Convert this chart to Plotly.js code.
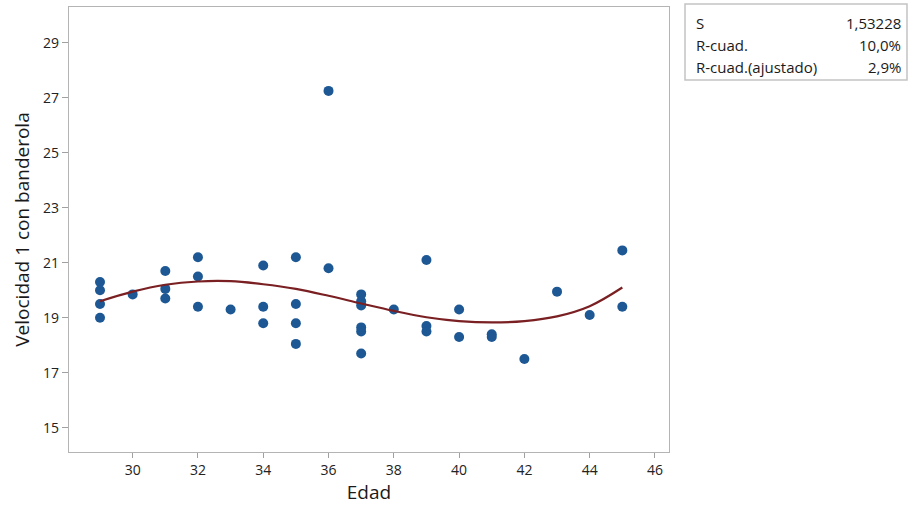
<!DOCTYPE html>
<html>
<head>
<meta charset="utf-8">
<script src="https://cdn.plot.ly/plotly-3.0.1.min.js"></script>
<style>html,body{margin:0;padding:0;background:#fff;}#chart{width:909px;height:515px;}</style>
</head>
<body>
<div id="chart"></div>
<script>
// Observed data: Edad (x) and Velocidad 1 con banderola (y)
const edad = [29,29,29,29, 30, 31,31,31, 32,32,32, 33, 34,34,34, 35,35,35,35, 36,36,
              37,37,37,37,37,37, 38, 39,39,39, 40,40, 41,41, 42, 43, 44, 45,45];
const velocidad = [20.3,20.0,19.5,19.0, 19.85, 20.7,20.05,19.7, 21.2,20.5,19.4, 19.3,
                   20.9,19.4,18.8, 21.2,19.5,18.8,18.05, 27.25,20.8,
                   19.85,19.6,19.45,18.65,18.5,17.7, 19.3, 21.1,18.7,18.5, 19.3,18.3,
                   18.4,18.3, 17.5, 19.95, 19.1, 21.45,19.4];
// Fitted (cubic) line
const fitX = [29,30,31,32,33,34,35,36,37,38,39,40,41,42,43,44,45];
const fitY = [19.6,19.95,20.2,20.32,20.33,20.22,20.05,19.8,19.52,19.25,19.02,18.88,18.83,18.88,19.05,19.42,20.1];
// Summary stats
const statLabels = ["S", "R-cuad.", "R-cuad.(ajustado)"];
const statValues = ["1,53228", "10,0%", "2,9%"];
const xTicks = [30,32,34,36,38,40,42,44,46];
const yTicks = [15,17,19,21,23,25,27,29];

const font = "'Open Sans', 'Noto Sans', sans-serif";

const traces = [
  {
    x: edad, y: velocidad, type: 'scatter', mode: 'markers',
    marker: {color: '#1d5894', size: 10, line: {width: 0}},
    hoverinfo: 'x+y'
  },
  {
    x: fitX, y: fitY, type: 'scatter', mode: 'lines',
    line: {color: '#7a1f22', width: 2.2, shape: 'spline', smoothing: 1.0},
    hoverinfo: 'skip'
  }
];

const layout = {
  width: 909, height: 515,
  margin: {l: 69, r: 240, t: 7, b: 63},
  paper_bgcolor: '#ffffff', plot_bgcolor: '#ffffff',
  showlegend: false,
  font: {family: font, color: '#222', size: 14},
  xaxis: {
    range: [28.05, 46.43], tickvals: xTicks, ticktext: xTicks.map(String),
    showgrid: false, zeroline: false, showline: true, mirror: true,
    linecolor: '#b4b4b4', linewidth: 1.2, ticks: 'outside', ticklen: 5, tickcolor: '#a0a0a0',
    tickfont: {family: font, size: 14, color: '#222'},
    title: {text: 'Edad', font: {family: font, size: 19, color: '#1a1a1a'}, standoff: 6}
  },
  yaxis: {
    range: [14.12, 30.3], tickvals: yTicks, ticktext: yTicks.map(String),
    showgrid: false, zeroline: false, showline: true, mirror: true,
    linecolor: '#b4b4b4', linewidth: 1.2, ticks: 'outside', ticklen: 6, tickcolor: '#a0a0a0',
    tickfont: {family: font, size: 14, color: '#222'},
    title: {text: 'Velocidad 1 con banderola', font: {family: font, size: 19, color: '#1a1a1a'}, standoff: 8}
  },
  shapes: [],
  annotations: []
};

// Stats box (pixel layout converted to paper coords)
const plotW = 909 - 69 - 240, plotH = 515 - 7 - 63;
const px = x => (x - 69) / plotW;
const py = y => 1 - (y - 7) / plotH;
const rowY = [23, 45, 67];
layout.shapes.push({type: 'rect', xref: 'paper', yref: 'paper',
  x0: px(685), x1: px(907), y0: py(80), y1: py(4),
  line: {color: '#c4c4c4', width: 1.5}, fillcolor: '#ffffff'});
statLabels.forEach((t, i) => {
  layout.annotations.push({xref: 'paper', yref: 'paper', x: px(694), y: py(rowY[i]),
    text: t, showarrow: false, xanchor: 'left', yanchor: 'middle',
    font: {family: font, size: 15, color: '#1a1a1a'}});
  layout.annotations.push({xref: 'paper', yref: 'paper', x: px(903), y: py(rowY[i]),
    text: statValues[i], showarrow: false, xanchor: 'right', yanchor: 'middle',
    font: {family: font, size: 15, color: '#1a1a1a'}});
});

Plotly.newPlot('chart', traces, layout, {displayModeBar: false, staticPlot: true});
</script>
</body>
</html>
